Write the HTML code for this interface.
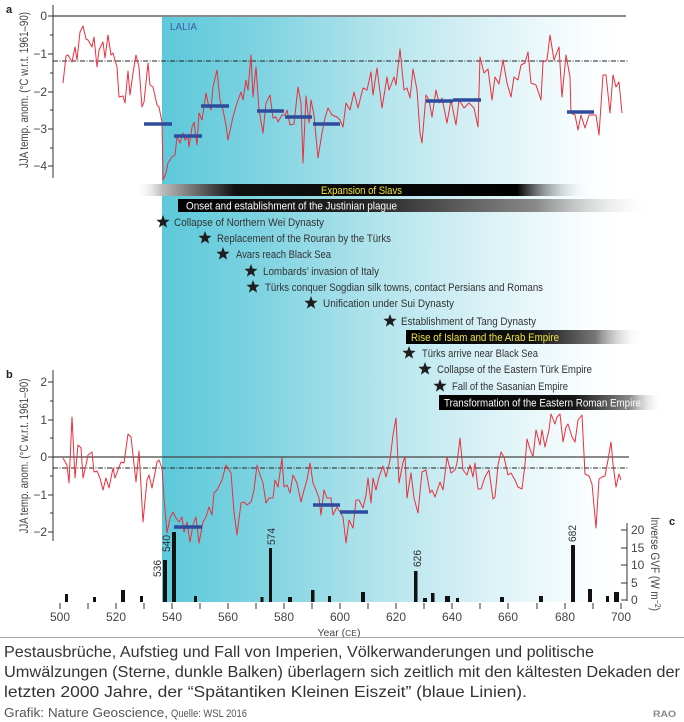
<!DOCTYPE html>
<html><head><meta charset="utf-8"><style>
html,body{margin:0;padding:0;background:#fff;}
svg{display:block;}
text{font-family:"Liberation Sans",Arial,sans-serif;}
</style></head><body>
<svg width="684" height="722" viewBox="0 0 684 722" xmlns="http://www.w3.org/2000/svg">
<defs>
<linearGradient id="lalia" gradientUnits="userSpaceOnUse" x1="162" y1="0" x2="625" y2="0">
<stop offset="0" stop-color="#5cc9da"/>
<stop offset="0.2" stop-color="#7cd2e0"/>
<stop offset="0.5" stop-color="#b9e6ee"/>
<stop offset="0.78" stop-color="#e6f6f9"/>
<stop offset="0.93" stop-color="#fbfeff"/>
<stop offset="1" stop-color="#ffffff"/>
</linearGradient>
<linearGradient id="gSlav" gradientUnits="userSpaceOnUse" x1="135" y1="0" x2="590" y2="0">
<stop offset="0" stop-color="#ffffff" stop-opacity="0"/>
<stop offset="0.06" stop-color="#bbbbbb"/>
<stop offset="0.22" stop-color="#111111"/>
<stop offset="0.84" stop-color="#000000"/>
<stop offset="1" stop-color="#ffffff" stop-opacity="0"/>
</linearGradient>
<linearGradient id="gJus" gradientUnits="userSpaceOnUse" x1="178" y1="0" x2="657" y2="0">
<stop offset="0" stop-color="#000"/>
<stop offset="0.4" stop-color="#262626"/>
<stop offset="0.75" stop-color="#8a8a8a"/>
<stop offset="1" stop-color="#ffffff" stop-opacity="0"/>
</linearGradient>
<linearGradient id="gIsl" gradientUnits="userSpaceOnUse" x1="406" y1="0" x2="643" y2="0">
<stop offset="0" stop-color="#000"/>
<stop offset="0.55" stop-color="#141414"/>
<stop offset="0.8" stop-color="#777"/>
<stop offset="1" stop-color="#ffffff" stop-opacity="0"/>
</linearGradient>
<linearGradient id="gTra" gradientUnits="userSpaceOnUse" x1="439" y1="0" x2="663" y2="0">
<stop offset="0" stop-color="#000"/>
<stop offset="0.6" stop-color="#141414"/>
<stop offset="0.85" stop-color="#888"/>
<stop offset="1" stop-color="#ffffff" stop-opacity="0"/>
</linearGradient>
<polygon id="star" points="0,-7 1.7,-2.35 6.66,-2.16 2.76,0.9 4.11,5.66 0,2.9 -4.11,5.66 -2.76,0.9 -6.66,-2.16 -1.7,-2.35" fill="#1e1e1e"/>
</defs>

<!-- LALIA shading -->
<rect x="162" y="17" width="463" height="585" fill="url(#lalia)"/>
<text x="170" y="30" font-size="10.5" fill="#3d5fa8" textLength="27" lengthAdjust="spacingAndGlyphs">LALIA</text>

<!-- ===== Panel a ===== -->
<text x="6" y="13" font-size="11" font-weight="bold" font-family="Liberation Serif, serif" fill="#222">a</text>
<line x1="53" y1="5" x2="53" y2="178" stroke="#333" stroke-width="1"/>
<g stroke="#333" stroke-width="1">
<line x1="48" y1="16" x2="53" y2="16"/><line x1="50" y1="35" x2="53" y2="35"/>
<line x1="48" y1="54" x2="53" y2="54"/><line x1="50" y1="73" x2="53" y2="73"/>
<line x1="48" y1="92" x2="53" y2="92"/><line x1="50" y1="110" x2="53" y2="110"/>
<line x1="48" y1="129" x2="53" y2="129"/><line x1="50" y1="148" x2="53" y2="148"/>
<line x1="48" y1="166" x2="53" y2="166"/>
</g>
<g font-size="12" fill="#444" text-anchor="end">
<text x="47" y="20">0</text>
<text x="47" y="58">−1</text>
<text x="47" y="96">−2</text>
<text x="47" y="133">−3</text>
<text x="47" y="170">−4</text>
</g>
<text transform="translate(28,90) rotate(-90)" font-size="11.5" fill="#444" text-anchor="middle" textLength="156" lengthAdjust="spacingAndGlyphs">JJA temp. anom. (°C w.r.t. 1961–90)</text>
<line x1="53" y1="16" x2="626" y2="16" stroke="#444" stroke-width="1.2"/>
<line x1="53" y1="61" x2="628" y2="61" stroke="#222" stroke-width="0.9" stroke-dasharray="5,1.5,1,1.5"/>
<polyline fill="none" stroke="#e8303c" stroke-width="1" stroke-linejoin="round" points="63,83 66,56 68,55 72,62 75,47 77,60 80,32 83,26 86,39 88,40 92,47 94,37 97,67 99,50 103,42 105,58 108,35 111,55 113,53 117,67 119,97 123,96 125,103 128,71 130,95 133,73 136,55 139,67 142,107 144,102 148,63 150,85 153,87 157,105 159,107 162,122 163,180 166,173 168,163 172,157 175,155 177,137 180,143 183,133 185,140 188,137 189,147 192,127 194,122 197,145 199,113 202,120 206,93 208,103 211,110 213,87 217,70 220,100 223,110 226,125 228,140 233,117 237,103 241,92 243,100 246,80 248,90 251,55 253,97 256,67 259,110 263,133 266,103 270,95 273,118 276,117 278,122 282,115 285,115 287,110 290,125 294,124 298,87 301,103 303,163 306,96 309,123 311,100 314,115 318,158 322,133 325,118 328,108 332,115 337,117 340,120 343,127 346,103 350,110 354,92 358,108 363,88 367,90 371,72 373,95 377,68 382,108 387,77 389,90 394,77 396,85 400,49 404,90 407,88 410,98 413,69 417,90 420,133 422,143 426,95 429,100 432,117 436,90 439,103 442,98 447,123 451,100 456,125 459,100 464,108 469,103 474,108 478,127 480,57 484,73 488,69 492,100 495,77 499,84 503,60 507,83 511,97 514,77 518,80 521,65 525,63 528,52 531,83 536,85 541,100 543,62 547,60 550,35 554,60 559,47 562,97 566,55 570,77 571,113 575,115 578,130 581,115 585,128 589,115 596,115 599,135 603,75 606,75 610,113 613,75 616,87 619,82 622,113"/>
<g stroke="#2f4b9c" stroke-width="3.5">
<line x1="144" y1="124" x2="172" y2="124"/>
<line x1="174" y1="136" x2="202" y2="136"/>
<line x1="201" y1="106" x2="229" y2="106"/>
<line x1="257" y1="111" x2="284" y2="111"/>
<line x1="285" y1="117" x2="312" y2="117"/>
<line x1="313" y1="124" x2="340" y2="124"/>
<line x1="426" y1="101" x2="453" y2="101"/>
<line x1="453" y1="100" x2="481" y2="100"/>
<line x1="567" y1="112" x2="594" y2="112"/>
</g>

<!-- ===== Events ===== -->
<rect x="135" y="184" width="455" height="12" fill="url(#gSlav)"/>
<text x="321" y="194" font-size="11" fill="#f0e23c" textLength="81" lengthAdjust="spacingAndGlyphs">Expansion of Slavs</text>
<rect x="178" y="199" width="479" height="13" fill="url(#gJus)"/>
<text x="186" y="209.5" font-size="11" fill="#fff" textLength="211" lengthAdjust="spacingAndGlyphs">Onset and establishment of the Justinian plague</text>

<g font-size="11" fill="#333">
<use href="#star" x="163" y="222"/>
<text x="174" y="226" textLength="150" lengthAdjust="spacingAndGlyphs">Collapse of Northern Wei Dynasty</text>
<use href="#star" x="205" y="238"/>
<text x="217" y="242" textLength="174" lengthAdjust="spacingAndGlyphs">Replacement of the Rouran by the Türks</text>
<use href="#star" x="223" y="254"/>
<text x="236" y="258" textLength="95" lengthAdjust="spacingAndGlyphs">Avars reach Black Sea</text>
<use href="#star" x="251" y="271"/>
<text x="263" y="275" textLength="116" lengthAdjust="spacingAndGlyphs">Lombards’ invasion of Italy</text>
<use href="#star" x="253" y="287"/>
<text x="265" y="291" textLength="278" lengthAdjust="spacingAndGlyphs">Türks conquer Sogdian silk towns, contact Persians and Romans</text>
<use href="#star" x="311" y="303"/>
<text x="323" y="307" textLength="131" lengthAdjust="spacingAndGlyphs">Unification under Sui Dynasty</text>
<use href="#star" x="390" y="321"/>
<text x="401" y="325" textLength="135" lengthAdjust="spacingAndGlyphs">Establishment of Tang Dynasty</text>
<use href="#star" x="409" y="353"/>
<text x="422" y="357" textLength="116" lengthAdjust="spacingAndGlyphs">Türks arrive near Black Sea</text>
<use href="#star" x="425" y="369"/>
<text x="437" y="373" textLength="155" lengthAdjust="spacingAndGlyphs">Collapse of the Eastern Türk Empire</text>
<use href="#star" x="440" y="386"/>
<text x="452" y="390" textLength="116" lengthAdjust="spacingAndGlyphs">Fall of the Sasanian Empire</text>
</g>
<rect x="406" y="330" width="237" height="14" fill="url(#gIsl)"/>
<text x="411" y="341" font-size="11" fill="#f0e23c" textLength="148" lengthAdjust="spacingAndGlyphs">Rise of Islam and the Arab Empire</text>
<rect x="439" y="395" width="224" height="15" fill="url(#gTra)"/>
<text x="444" y="406.5" font-size="11" fill="#fff" textLength="197" lengthAdjust="spacingAndGlyphs">Transformation of the Eastern Roman Empire</text>

<!-- ===== Panel b ===== -->
<text x="6" y="378" font-size="11" font-weight="bold" font-family="Liberation Serif, serif" fill="#222">b</text>
<line x1="53" y1="370" x2="53" y2="541" stroke="#333" stroke-width="1"/>
<g stroke="#333" stroke-width="1">
<line x1="48" y1="382" x2="53" y2="382"/><line x1="50" y1="401" x2="53" y2="401"/>
<line x1="48" y1="420" x2="53" y2="420"/><line x1="50" y1="438" x2="53" y2="438"/>
<line x1="48" y1="457" x2="53" y2="457"/><line x1="50" y1="476" x2="53" y2="476"/>
<line x1="48" y1="495" x2="53" y2="495"/><line x1="50" y1="513" x2="53" y2="513"/>
<line x1="48" y1="532" x2="53" y2="532"/>
</g>
<g font-size="12" fill="#444" text-anchor="end">
<text x="47" y="386">2</text>
<text x="47" y="424">1</text>
<text x="47" y="461">0</text>
<text x="47" y="499">−1</text>
<text x="47" y="536">−2</text>
</g>
<text transform="translate(28,456) rotate(-90)" font-size="11.5" fill="#444" text-anchor="middle" textLength="155" lengthAdjust="spacingAndGlyphs">JJA temp. anom. (°C w.r.t. 1961–90)</text>
<line x1="53" y1="457" x2="629" y2="457" stroke="#444" stroke-width="1.2"/>
<line x1="53" y1="468" x2="629" y2="468" stroke="#222" stroke-width="0.9" stroke-dasharray="5,1.5,1,1.5"/>
<polyline fill="none" stroke="#e8303c" stroke-width="1" stroke-linejoin="round" points="63,458 67,465 69,483 72,417 75,478 78,445 81,448 83,478 86,465 88,455 92,452 94,472 97,471 100,478 103,490 106,478 109,488 113,468 115,478 118,470 121,462 124,463 128,434 131,437 133,455 136,482 139,451 143,522 147,480 149,475 152,488 154,478 157,462 159,460 162,468 164,498 167,533 170,518 173,512 176,518 179,522 182,517 184,532 187,522 190,542 193,525 196,517 199,543 203,522 206,517 209,507 212,515 214,493 217,490 222,480 226,465 231,473 234,512 237,535 241,503 244,502 247,505 251,502 254,490 257,465 260,475 263,483 266,503 269,498 273,498 275,480 278,487 282,458 284,487 287,485 290,493 293,475 297,483 301,502 304,490 307,480 310,463 313,483 316,490 319,498 321,515 324,490 327,498 331,498 333,515 337,507 340,512 343,517 346,543 349,520 353,528 356,500 359,500 363,508 366,495 368,478 371,503 373,478 376,490 379,477 383,466 386,477 390,460 393,435 396,418 399,483 403,462 405,457 407,498 411,473 414,498 418,513 422,472 426,470 430,493 432,490 435,497 440,482 443,490 447,457 451,473 455,470 457,463 460,438 463,470 467,475 470,465 473,477 475,463 478,489 481,489 485,477 489,470 493,499 495,497 498,465 501,452 504,457 508,475 511,473 515,480 518,487 522,489 525,464 527,439 530,449 533,457 536,430 540,445 542,430 545,447 549,430 551,414 555,424 557,417 560,414 563,442 566,427 568,424 572,437 575,442 578,420 582,415 585,474 589,476 592,484 596,528 599,479 602,477 605,476 608,460 611,442 613,464 616,487 619,474 621,480"/>
<g stroke="#2f4b9c" stroke-width="3.5">
<line x1="174" y1="527" x2="202" y2="527"/>
<line x1="313" y1="505" x2="340" y2="505"/>
<line x1="340" y1="512" x2="368" y2="512"/>
</g>

<!-- ===== Panel c bars ===== -->
<g fill="#111">
<rect x="65" y="594" width="3" height="8"/>
<rect x="93" y="597" width="3" height="5"/>
<rect x="121" y="590" width="4" height="12"/>
<rect x="140" y="596" width="3" height="6"/>
<rect x="163" y="560" width="4" height="42"/>
<rect x="172" y="532" width="4" height="70"/>
<rect x="194" y="596" width="3" height="6"/>
<rect x="260.5" y="597" width="3" height="5"/>
<rect x="269" y="548" width="3" height="54"/>
<rect x="288" y="597" width="4" height="5"/>
<rect x="311" y="590" width="3.5" height="12"/>
<rect x="328" y="596" width="3" height="6"/>
<rect x="361" y="592" width="4" height="10"/>
<rect x="414" y="571" width="3.5" height="31"/>
<rect x="423" y="598" width="4" height="4"/>
<rect x="431" y="593" width="3.5" height="9"/>
<rect x="445" y="596" width="5" height="6"/>
<rect x="456" y="598" width="3" height="4"/>
<rect x="500" y="597" width="4" height="5"/>
<rect x="539" y="596" width="4" height="6"/>
<rect x="571" y="545" width="4" height="57"/>
<rect x="588" y="589" width="4" height="13"/>
<rect x="606" y="596" width="3" height="6"/>
<rect x="614" y="592" width="5" height="10"/>
</g>
<g font-size="11" fill="#333">
<text transform="translate(161,577) rotate(-90)" textLength="17" lengthAdjust="spacingAndGlyphs">536</text>
<text transform="translate(170,552) rotate(-90)" textLength="17" lengthAdjust="spacingAndGlyphs">540</text>
<text transform="translate(275,545) rotate(-90)" textLength="17" lengthAdjust="spacingAndGlyphs">574</text>
<text transform="translate(421,567) rotate(-90)" textLength="17" lengthAdjust="spacingAndGlyphs">626</text>
<text transform="translate(576,542) rotate(-90)" textLength="17" lengthAdjust="spacingAndGlyphs">682</text>
</g>
<line x1="627" y1="523" x2="627" y2="601" stroke="#333" stroke-width="1"/>
<g stroke="#333" stroke-width="1">
<line x1="621" y1="600" x2="627" y2="600"/>
<line x1="621" y1="583" x2="627" y2="583"/>
<line x1="621" y1="565" x2="627" y2="565"/>
<line x1="621" y1="548" x2="627" y2="548"/>
<line x1="621" y1="530" x2="627" y2="530"/>
</g>
<g font-size="12" fill="#444">
<text x="631" y="604">0</text>
<text x="631" y="587">5</text>
<text x="631" y="569">10</text>
<text x="631" y="552">15</text>
<text x="631" y="534">20</text>
</g>
<text transform="translate(651,564) rotate(90)" font-size="11.5" fill="#444" text-anchor="middle" textLength="94" lengthAdjust="spacingAndGlyphs">Inverse GVF (W m<tspan dy="-4" font-size="8">−2</tspan><tspan dy="4">)</tspan></text>
<text x="669" y="525" font-size="11" font-weight="bold" fill="#222">c</text>

<!-- Year axis -->
<g stroke="#333" stroke-width="1">
<line x1="60" y1="603" x2="60" y2="609"/><line x1="88" y1="603" x2="88" y2="609"/>
<line x1="116" y1="603" x2="116" y2="609"/><line x1="144" y1="603" x2="144" y2="609"/>
<line x1="172" y1="603" x2="172" y2="609"/><line x1="200" y1="603" x2="200" y2="609"/>
<line x1="228" y1="603" x2="228" y2="609"/><line x1="256" y1="603" x2="256" y2="609"/>
<line x1="284" y1="603" x2="284" y2="609"/><line x1="312" y1="603" x2="312" y2="609"/>
<line x1="340" y1="603" x2="340" y2="609"/><line x1="368" y1="603" x2="368" y2="609"/>
<line x1="396" y1="603" x2="396" y2="609"/><line x1="424" y1="603" x2="424" y2="609"/>
<line x1="452" y1="603" x2="452" y2="609"/><line x1="480" y1="603" x2="480" y2="609"/>
<line x1="508" y1="603" x2="508" y2="609"/><line x1="537" y1="603" x2="537" y2="609"/>
<line x1="565" y1="603" x2="565" y2="609"/><line x1="593" y1="603" x2="593" y2="609"/>
<line x1="621" y1="603" x2="621" y2="609"/>
</g>
<g font-size="12" fill="#444" text-anchor="middle">
<text x="60" y="621">500</text>
<text x="116" y="621">520</text>
<text x="172" y="621">540</text>
<text x="228" y="621">560</text>
<text x="284" y="621">580</text>
<text x="340" y="621">600</text>
<text x="396" y="621">620</text>
<text x="452" y="621">640</text>
<text x="508" y="621">660</text>
<text x="565" y="621">680</text>
<text x="621" y="621">700</text>
</g>
<text x="339" y="636" font-size="10.5" fill="#444" text-anchor="middle">Year (<tspan font-size="8.5">CE</tspan>)</text>

<line x1="0" y1="637.5" x2="684" y2="637.5" stroke="#aaa" stroke-width="1"/>

<!-- Caption -->
<g font-size="16" fill="#333">
<text x="4" y="657" textLength="590" lengthAdjust="spacingAndGlyphs">Pestausbrüche, Aufstieg und Fall von Imperien, Völkerwanderungen und politische</text>
<text x="4" y="677" textLength="676" lengthAdjust="spacingAndGlyphs">Umwälzungen (Sterne, dunkle Balken) überlagern sich zeitlich mit den kältesten Dekaden der</text>
<text x="4" y="697" textLength="523" lengthAdjust="spacingAndGlyphs">letzten 2000 Jahre, der “Spätantiken Kleinen Eiszeit” (blaue Linien).</text>
</g>
<text x="4" y="717" font-size="13" fill="#555" textLength="164" lengthAdjust="spacingAndGlyphs">Grafik: Nature Geoscience,</text>
<text x="171" y="717" font-size="11" fill="#555" textLength="76" lengthAdjust="spacingAndGlyphs">Quelle: WSL 2016</text>
<text x="653" y="717" font-size="9" font-weight="bold" fill="#888" textLength="23" lengthAdjust="spacingAndGlyphs">RAO</text>
</svg>
</body></html>
